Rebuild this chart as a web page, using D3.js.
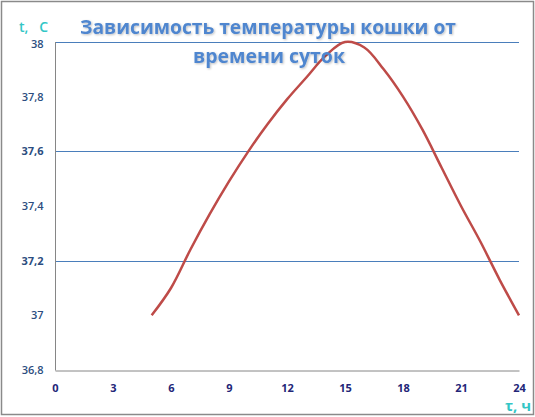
<!DOCTYPE html>
<html><head><meta charset="utf-8">
<script src="https://cdn.jsdelivr.net/npm/d3@7"></script>
<style>body{margin:0;background:#fff}svg{display:block}</style>
</head><body>
<svg id="c" width="535" height="417"></svg>
<script>
const hours = [5,6,7,8,9,10,11,12,13,14,15,16,17,18,19,20,21,22,23,24];
const temps = [37.0,37.1,37.24,37.37,37.49,37.6,37.7,37.79,37.87,37.95,38.0,37.98,37.9,37.8,37.68,37.54,37.4,37.27,37.13,37.0];
const xTicks = [0,3,6,9,12,15,18,21,24];
const yTicks = [36.8,37.0,37.2,37.4,37.6,37.8,38.0];
const gridTicks = [37.2,37.6,38.0];
const titleLines = ["Зависимость температуры кошки от","времени суток"];

const svg = d3.select("#c");
const x = d3.scaleLinear().domain([0,24]).range([55,519]);
const y = d3.scaleLinear().domain([36.8,38]).range([370,42]);

svg.append("rect").attr("x",1.5).attr("y",1.5).attr("width",532).attr("height",413)
  .attr("fill","#fff").attr("stroke","#8a8a8a").attr("stroke-width",1.5);

// gridlines
svg.append("g").selectAll("line").data(gridTicks).join("line")
  .attr("x1",x(0)).attr("x2",x(24))
  .attr("y1",d=>Math.round(y(d))+0.5).attr("y2",d=>Math.round(y(d))+0.5)
  .attr("stroke","#4a7ebb").attr("stroke-width",1);

// axes
const fmt = d => d3.format(".1f")(d).replace(/\.0$/,"").replace(".",",");
const yAxis = svg.append("g").attr("transform",`translate(${x(0)+0.5},0)`)
  .call(d3.axisLeft(y).tickValues(yTicks).tickSize(0).tickPadding(12).tickFormat(fmt));
yAxis.select(".domain").attr("stroke","#868686").attr("d",`M0,${y(38)}V${y(36.8)+0.5}`);
yAxis.selectAll("text").attr("fill","#2c4d80").attr("font-family","'Open Sans',sans-serif")
  .attr("font-size",11).attr("font-weight",d=>(d===37.2||d===37.6)?700:600)
  .attr("dy",d=>d===38?"0.5em":"0.32em");

const xAxis = svg.append("g").attr("transform",`translate(0,${y(36.8)+0.5})`)
  .call(d3.axisBottom(x).tickValues(xTicks).tickSize(0).tickPadding(14));
xAxis.select(".domain").attr("stroke","#868686");
xAxis.selectAll("text").attr("fill","#232678").attr("font-family","'Open Sans',sans-serif")
  .attr("font-size",11).attr("font-weight",700);

// curve
svg.append("path").datum(hours.map((h,i)=>[h,temps[i]]))
  .attr("fill","none").attr("stroke","#be4b48").attr("stroke-width",2.5)
  .attr("d",d3.line().x(d=>x(d[0])).y(d=>y(d[1])).curve(d3.curveCatmullRom.alpha(0.5)));

// title
const defs = svg.append("defs");
const f = defs.append("filter").attr("id","sh").attr("x","-5%").attr("y","-20%").attr("width","110%").attr("height","140%");
f.append("feDropShadow").attr("dx",1).attr("dy",1).attr("stdDeviation",0.8).attr("flood-color","#000").attr("flood-opacity",0.25);
const tt = svg.append("g").attr("filter","url(#sh)").attr("fill","#4f86cf")
  .attr("font-family","'Open Sans',sans-serif").attr("font-weight",700).attr("font-size",20)
  .attr("text-anchor","middle");
tt.append("text").attr("x",268).attr("y",34).attr("textLength",376).attr("lengthAdjust","spacingAndGlyphs").text(titleLines[0]);
tt.append("text").attr("x",269).attr("y",63).attr("textLength",152).attr("lengthAdjust","spacingAndGlyphs").text(titleLines[1]);

// axis titles
svg.append("text").attr("x",19).attr("y",32).attr("fill","#33c6c6")
  .attr("font-family","'Open Sans',sans-serif").attr("font-weight",600).attr("font-size",14)
  .attr("xml:space","preserve").text("t,   С");
svg.append("text").attr("x",531).attr("y",411).attr("text-anchor","end").attr("fill","#33c6c6")
  .attr("font-family","'Open Sans',sans-serif").attr("font-weight",700).attr("font-size",15)
  .text("τ, ч");
</script>
</body></html>
